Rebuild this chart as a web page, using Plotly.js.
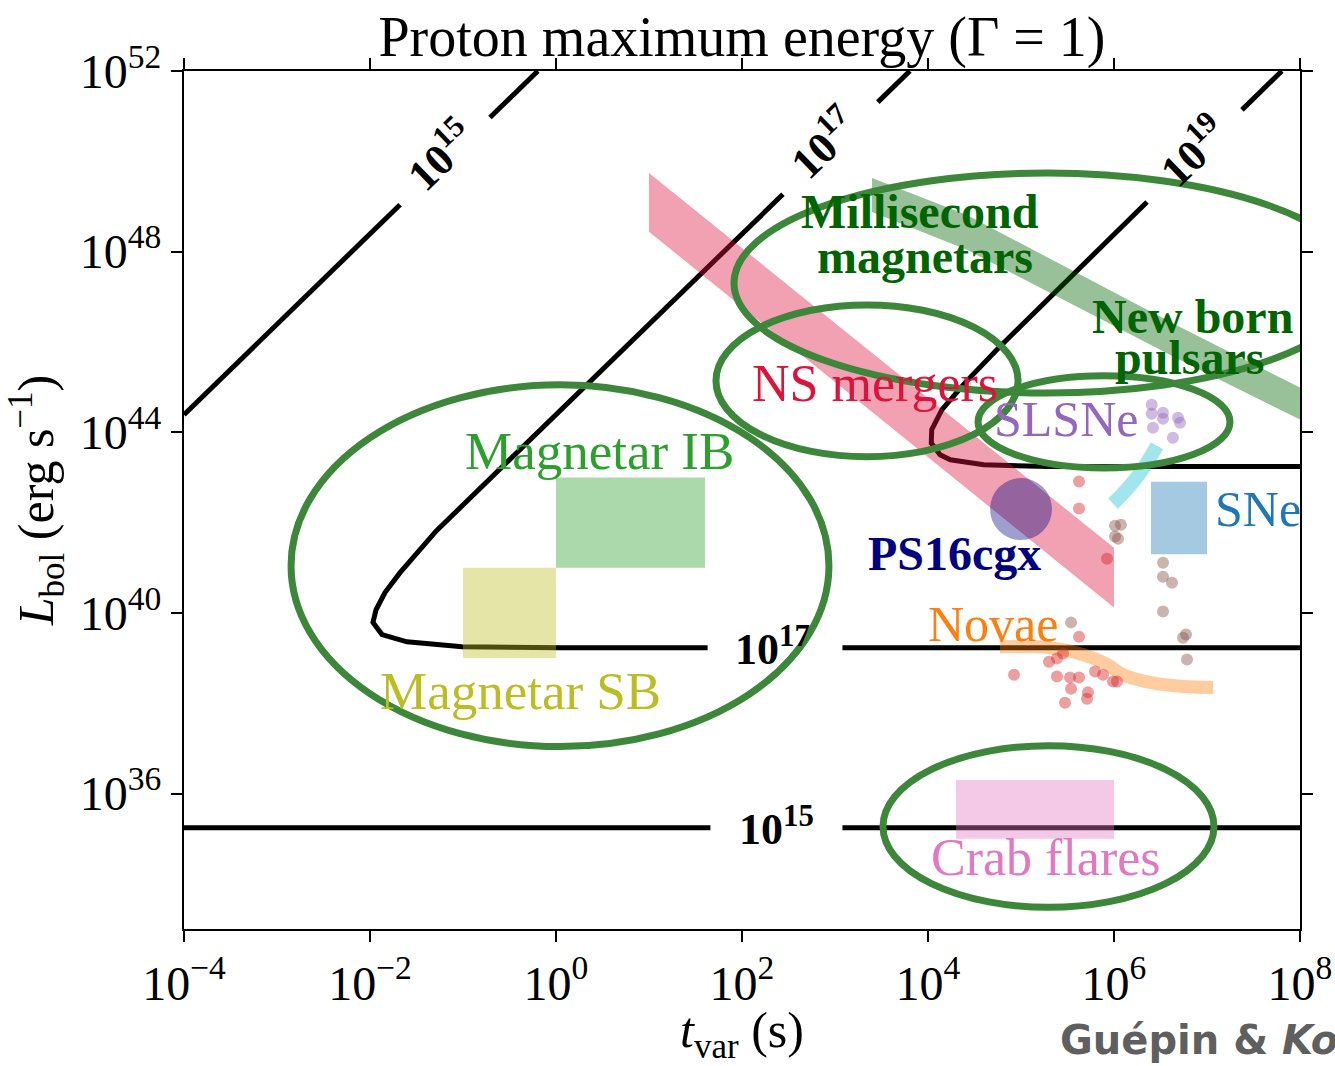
<!DOCTYPE html>
<html><head><meta charset="utf-8">
<script src="https://cdn.plot.ly/plotly-3.0.1.min.js"></script>
<style>body{margin:0;background:#fff}#chart{width:1335px;height:1066px}</style>
</head><body><div id="chart"></div>
<script>
// ---- data (log10 values) ----
// contour E_max = 1e15 eV
const c15_logt = [-4, -1.677, null, -0.71, -0.195, null, -4, 1.66, null, 3.08, 8];
const c15_logL = [44.39, 49.04, null, 50.97, 52.0, null, 35.24, 35.24, null, 35.24, 35.24];
// contour 1e17 eV
const c17_logt = [3.46, 3.805, null, 2.44, -1.29, -1.677, -1.839, -1.935, -1.968, -1.871, -1.602, -1.011, 0.043, 1.63, null, 3.08, 8];
const c17_logL = [51.31, 52.0, null, 49.27, 41.81, 40.89, 40.45, 40.07, 39.79, 39.52, 39.36, 39.25, 39.23, 39.23, null, 39.23, 39.23];
// contour 1e19 eV
const c19_logt = [7.376, 7.805, null, 6.355, 5.247, 4.774, 4.40, 4.15, 4.04, 4.035, 4.13, 4.24, 4.60, 5.3, 8];
const c19_logL = [51.14, 52.0, null, 49.10, 46.88, 45.90, 45.10, 44.50, 44.06, 43.76, 43.50, 43.39, 43.28, 43.24, 43.24];

// NS mergers band
const nsm_logt = [1.0, 6.0];
const nsm_top = [49.74, 41.44];
const nsm_bot = [48.44, 40.12];
// New born pulsars / millisecond magnetars band
const nbp_logt = [3.398, 4.419, 6.710, 8.0];
const nbp_top = [49.63, 48.81, 46.33, 44.99];
const nbp_bot = [48.88, 48.04, 45.60, 44.28];

// boxes: [t_min, t_max], [L_min, L_max]
const magIB_t = [1, 40], magIB_L = [1e41, 1e43];
const magSB_t = [0.1, 1], magSB_L = [1e39, 1e41];
const sne_t = [2.5e6, 1e7], sne_L = [2e41, 8e42];
const crab_t = [2e4, 1e6], crab_L = [1e35, 2e36];

// PS16cgx
const ps_logt = [5.0], ps_logL = [42.30];
// SLSNe points
const slsne_logt = [6.405, 6.405, 6.527, 6.527, 6.688, 6.710, 6.419, 6.634];
const slsne_logL = [44.61, 44.41, 44.43, 44.30, 44.32, 44.21, 44.10, 43.88];
// novae points (red)
const nova_logt = [5.624, 5.624, 5.925, 5.624, 5.452, 5.387, 5.301, 4.925, 5.387, 5.527, 5.624, 5.538, 5.473, 5.720, 5.710, 5.796, 5.882, 5.989, 6.032];
const nova_logL = [42.91, 42.31, 41.20, 39.47, 39.10, 38.99, 38.92, 38.63, 38.59, 38.57, 38.57, 38.32, 38.01, 38.24, 38.10, 38.70, 38.63, 38.48, 38.48];
// supernova points (brown)
const snp_logt = [6.011, 6.075, 6.011, 6.043, 6.527, 6.527, 6.624, 6.527, 6.774, 6.742, 6.785, 5.538];
const snp_logL = [41.93, 41.95, 41.69, 41.64, 41.11, 40.80, 40.67, 40.03, 39.52, 39.45, 38.97, 39.79];
// cyan curve
const cyan_logt = [6.462, 6.355, 6.226, 6.086, 5.989];
const cyan_logL = [43.70, 43.33, 42.95, 42.62, 42.42];
// novae curve
const novc_logt = [4.774, 5.312, 5.667, 5.925, 6.097, 6.387, 6.742, 7.065];
const novc_logL = [39.25, 39.23, 39.08, 38.86, 38.63, 38.46, 38.37, 38.35];

// region ellipses (log10 bounds): [t0, t1, L0, L1]
const ell_magnetar = [-2.849, 2.935, 37.04, 45.05];
const ell_nsm = [1.72, 4.968, 43.46, 46.82];
const ell_msm = [1.914, 8.645, 44.87, 49.74];
const ell_slsne = [4.538, 7.247, 43.21, 45.25];
const ell_crab = [3.516, 7.075, 33.48, 37.06];

// ticks
const xTickExp = [-4, -2, 0, 2, 4, 6, 8];
const xTickText = ['10<sup>−4</sup>', '10<sup>−2</sup>', '10<sup>0</sup>', '10<sup>2</sup>', '10<sup>4</sup>', '10<sup>6</sup>', '10<sup>8</sup>'];
const yTickExp = [36, 40, 44, 48, 52];
const yTickText = ['10<sup>36</sup>', '10<sup>40</sup>', '10<sup>44</sup>', '10<sup>48</sup>', '10<sup>52</sup>'];

// ---- build ----
const P = a => a.map(v => v === null ? null : Math.pow(10, v));
const SERIF = 'Liberation Serif';

function band(lt, top, bot) {
  return { x: P(lt.concat(lt.slice().reverse(), [lt[0]])), y: P(top.concat(bot.slice().reverse(), [top[0]])) };
}
function rect(t, L) {
  return { x: [t[0], t[1], t[1], t[0], t[0]], y: [L[0], L[0], L[1], L[1], L[0]] };
}
const traces = [];
const contourLine = { color: 'black', width: 5 };
traces.push({ x: P(c15_logt), y: P(c15_logL), mode: 'lines', line: contourLine, connectgaps: false });
traces.push({ x: P(c17_logt), y: P(c17_logL), mode: 'lines', line: contourLine, connectgaps: false });
traces.push({ x: P(c19_logt), y: P(c19_logL), mode: 'lines', line: contourLine, connectgaps: false });

const nsb = band(nsm_logt, nsm_top, nsm_bot);
traces.push({ x: nsb.x, y: nsb.y, mode: 'lines', fill: 'toself', fillcolor: 'rgba(220,20,60,0.4)', line: { width: 0 } });
const nbb = band(nbp_logt, nbp_top, nbp_bot);
traces.push({ x: nbb.x, y: nbb.y, mode: 'lines', fill: 'toself', fillcolor: 'rgba(0,100,0,0.4)', line: { width: 0 } });

[[magIB_t, magIB_L, 'rgba(44,160,44,0.4)'], [magSB_t, magSB_L, 'rgba(188,189,34,0.4)'],
 [sne_t, sne_L, 'rgba(31,119,180,0.4)'], [crab_t, crab_L, 'rgba(227,119,194,0.4)']].forEach(r => {
  const p = rect(r[0], r[1]);
  traces.push({ x: p.x, y: p.y, mode: 'lines', fill: 'toself', fillcolor: r[2], line: { width: 0 } });
});

traces.push({ x: P(cyan_logt), y: P(cyan_logL), mode: 'lines', line: { color: 'rgba(23,190,207,0.4)', width: 14, shape: 'spline' } });
traces.push({ x: P(novc_logt), y: P(novc_logL), mode: 'lines', line: { color: 'rgba(255,127,14,0.4)', width: 13, shape: 'spline' } });

traces.push({ x: P(nova_logt), y: P(nova_logL), mode: 'markers', marker: { size: 12, color: 'rgba(214,39,40,0.45)' } });
traces.push({ x: P(snp_logt), y: P(snp_logL), mode: 'markers', marker: { size: 12, color: 'rgba(140,86,75,0.45)' } });
traces.push({ x: P(slsne_logt), y: P(slsne_logL), mode: 'markers', marker: { size: 12, color: 'rgba(148,103,189,0.45)' } });
traces.push({ x: P(ps_logt), y: P(ps_logL), mode: 'markers', marker: { size: 62, color: 'rgba(0,0,128,0.38)' } });

const GREEN = 'rgb(60,135,58)';
const shapes = [ell_magnetar, ell_nsm, ell_msm, ell_slsne, ell_crab].map(e => ({
  type: 'circle', xref: 'x', yref: 'y', layer: 'above',
  x0: Math.pow(10, e[0]), x1: Math.pow(10, e[1]), y0: Math.pow(10, e[2]), y1: Math.pow(10, e[3]),
  line: { color: GREEN, width: 7 }
}));

function lab(text, x, y, color, size, bold, angle) {
  return { text: bold ? '<b>' + text + '</b>' : text, x: x, y: y, xref: 'x', yref: 'y', showarrow: false,
    xanchor: 'center', yanchor: 'middle', textangle: angle || 0,
    font: { family: SERIF, size: size, color: color } };
}
const annotations = [
  lab('Millisecond', 3.914, 48.88, '#006400', 48, true),
  lab('magnetars', 3.968, 47.90, '#006400', 48, true),
  lab('New born', 6.839, 46.56, '#006400', 48, true),
  lab('pulsars', 6.817, 45.66, '#006400', 48, true),
  lab('NS mergers', 3.430, 45.08, '#dc143c', 52, false),
  lab('SLSNe', 5.484, 44.30, '#9467bd', 50, false),
  lab('SNe', 7.548, 42.29, '#1f77b4', 50, false),
  lab('PS16cgx', 4.290, 41.31, '#000080', 48, true),
  lab('Novae', 4.699, 39.76, '#ff7f0e', 50, false),
  lab('Magnetar IB', 0.473, 43.59, '#2ca02c', 53, false),
  lab('Magnetar SB', -0.387, 38.28, '#bcbd22', 53, false),
  lab('Crab flares', 5.269, 34.59, '#e377c2', 52, false),
  lab('10<sup>15</sup>', 2.366, 35.27, 'black', 44, true),
  lab('10<sup>17</sup>', 2.323, 39.26, 'black', 44, true),
  lab('10<sup>15</sup>', -1.247, 50.14, 'black', 44, true, -44),
  lab('10<sup>17</sup>', 2.871, 50.41, 'black', 44, true, -44),
  lab('10<sup>19</sup>', 6.839, 50.25, 'black', 44, true, -44),
  { text: '<b>Guépin & <i>Kotera</i></b>', xref: 'paper', yref: 'paper', x: 0.7832, y: -0.1294,
    xanchor: 'left', yanchor: 'middle', showarrow: false,
    font: { family: 'DejaVu Sans', size: 40, color: 'rgb(95,95,95)' } }
];

const axisCommon = {
  type: 'log', showline: true, linewidth: 2, linecolor: 'black', mirror: 'ticks',
  ticks: 'outside', ticklen: 11, tickwidth: 2, tickcolor: 'black',
  showgrid: false, zeroline: false, automargin: false,
  tickfont: { family: SERIF, size: 48, color: 'black' }
};
const layout = {
  width: 1335, height: 1066,
  margin: { l: 184, r: 35, t: 71, b: 137 },
  paper_bgcolor: 'white', plot_bgcolor: 'white',
  showlegend: false, hovermode: false,
  title: { text: 'Proton maximum energy (Γ = 1)', x: 0.5, xref: 'paper', y: 0.966, yref: 'container', yanchor: 'middle',
    font: { family: SERIF, size: 56, color: 'black' } },
  xaxis: Object.assign({}, axisCommon, {
    range: [-4, 8], tickvals: P(xTickExp), ticktext: xTickText,
    title: { text: '<i>t</i><sub>var</sub> (s)', font: { family: SERIF, size: 50, color: 'black' }, standoff: 12 }
  }),
  yaxis: Object.assign({}, axisCommon, {
    range: [33, 52], tickvals: P(yTickExp), ticktext: yTickText,
    title: { text: '<i>L</i><sub>bol</sub> (erg s<sup>−1</sup>)', font: { family: SERIF, size: 50, color: 'black' }, standoff: 10 }
  }),
  shapes: shapes,
  annotations: annotations
};
Plotly.newPlot('chart', traces, layout, { staticPlot: true, displayModeBar: false });
</script></body></html>
